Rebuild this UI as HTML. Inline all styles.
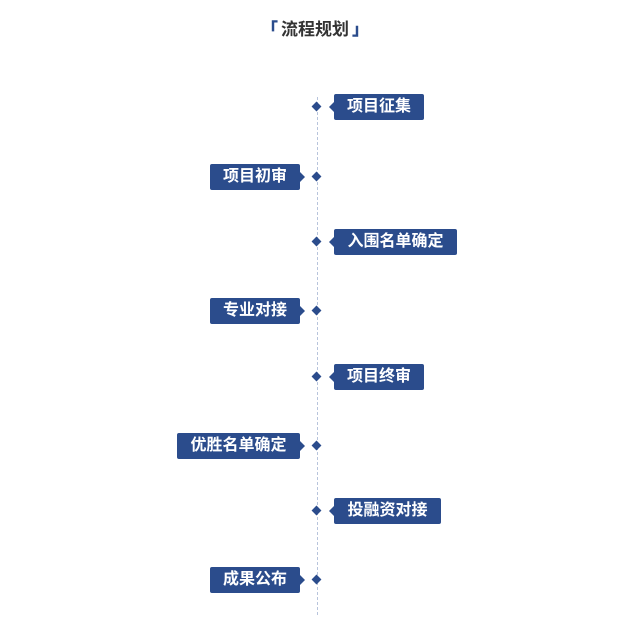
<!DOCTYPE html>
<html><head><meta charset="utf-8"><style>
body{margin:0;width:630px;height:641px;background:#fff;position:relative;font-family:"Liberation Sans","Noto Sans CJK SC",sans-serif;overflow:hidden}
.t{position:absolute;top:15px;left:0;width:630px;text-align:center;font-size:17px;font-weight:bold;color:#333}
.t b{color:#2b4c8c;margin:0 3px}
.line{position:absolute;left:317px;top:97px;height:518px;border-left:1px dashed #b8c4dc}
.d{position:absolute;width:7px;height:7px;background:#2b4c8c;transform:rotate(45deg);left:313px}
.b{position:absolute;height:26px;line-height:26px;background:#2b4c8c;color:#fff;font-weight:bold;font-size:16px;text-align:center;border-radius:2px}
.r:before{content:"";position:absolute;left:-5px;top:8px;border:5px solid transparent;border-left:0;border-right-color:#2b4c8c}
.l:after{content:"";position:absolute;right:-5px;top:8px;border:5px solid transparent;border-right:0;border-left-color:#2b4c8c}
</style></head><body>
<div class="t"><b>「</b>流程规划<b>」</b></div>
<div class="line"></div>
<div class="d" style="top:103px"></div><div class="b r" style="left:334px;top:94px;width:90px">项目征集</div>
<div class="d" style="top:173px"></div><div class="b l" style="left:210px;top:164px;width:90px">项目初审</div>
<div class="d" style="top:238px"></div><div class="b r" style="left:334px;top:229px;width:123px">入围名单确定</div>
<div class="d" style="top:307px"></div><div class="b l" style="left:210px;top:298px;width:90px">专业对接</div>
<div class="d" style="top:373px"></div><div class="b r" style="left:334px;top:364px;width:90px">项目终审</div>
<div class="d" style="top:442px"></div><div class="b l" style="left:177px;top:433px;width:123px">优胜名单确定</div>
<div class="d" style="top:507px"></div><div class="b r" style="left:334px;top:498px;width:107px">投融资对接</div>
<div class="d" style="top:576px"></div><div class="b l" style="left:210px;top:567px;width:90px">成果公布</div>
</body></html>
